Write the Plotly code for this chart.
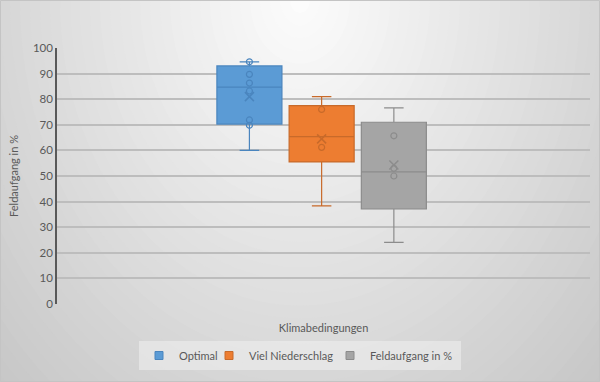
import plotly.graph_objects as go

# ---- data ----
series = ["Optimal", "Viel Niederschlag", "Feldaufgang in %"]
q1 = [70.3, 55.5, 37.1]
median = [84.7, 65.4, 51.6]
q3 = [93.0, 77.5, 71.0]
lower = [60.0, 38.3, 24.1]
upper = [94.6, 81.0, 76.6]
means = [81.0, 64.5, 54.3]
points_optimal = [94.6, 89.7, 86.3, 83.2, 71.9, 69.8]
points_niederschlag = [76.0, 61.2]
points_feld = [65.7, 53.0, 50.0]
inner_points = [points_optimal, points_niederschlag, points_feld]
category = "Klimabedingungen"
y_ticks = [0, 10, 20, 30, 40, 50, 60, 70, 80, 90, 100]

# ---- styling ----
fills = ["#5B9BD5", "#ED7D31", "#A5A5A5"]
lines = ["#4A85BE", "#C86A2A", "#8C8C8C"]
positions = [-0.139, -0.0035, 0.132]
box_width = 0.122
legend_widths = [25, 76, 86]

W, H = 600, 382
ML, MR, MT, MB = 57, 10, 48, 78
PW, PH = W - ML - MR, H - MT - MB


def px_x(p):
    return (p - ML) / PW


def px_y(p):
    return (H - MB - p) / PH


fig = go.Figure()

for i, name in enumerate(series):
    fig.add_trace(go.Box(
        name=name,
        x=[positions[i]],
        q1=[q1[i]], median=[median[i]], q3=[q3[i]],
        lowerfence=[lower[i]], upperfence=[upper[i]],
        width=box_width,
        fillcolor=fills[i],
        line=dict(color=lines[i], width=1.2),
        whiskerwidth=0.3,
        boxpoints=False,
        showlegend=False,
    ))
    fig.add_trace(go.Scatter(
        x=[positions[i]] * len(inner_points[i]),
        y=inner_points[i],
        mode="markers",
        marker=dict(symbol="circle-open", size=6, color=lines[i], line=dict(width=1.2)),
        showlegend=False, hoverinfo="y",
    ))
    fig.add_trace(go.Scatter(
        x=[positions[i]], y=[means[i]],
        mode="markers",
        marker=dict(symbol="x-thin-open", size=9, color=lines[i],
                    line=dict(width=1.5, color=lines[i])),
        showlegend=False, hoverinfo="y",
    ))
    # legend entry (square swatch like the original)
    fig.add_trace(go.Scatter(
        x=[None], y=[None], name=name, mode="markers",
        marker=dict(symbol="square", size=8, color=fills[i],
                    line=dict(width=1, color=lines[i])),
        legendwidth=legend_widths[i],
        showlegend=True,
    ))

# radial gradient background built from layered ellipses
shapes = []
n = 45
rmax = 1.5
cx, cy = 300, 0
for k in range(n, 0, -1):
    r = rmax * k / n
    c = int(round(max(196, 253 - 38 * r)))
    col = f"rgb({c},{c},{c})"
    shapes.append(dict(
        type="circle", xref="paper", yref="paper", layer="below",
        x0=px_x(cx - 300 * r), x1=px_x(cx + 300 * r),
        y0=px_y(cy + 382 * r), y1=px_y(cy - 382 * r),
        fillcolor=col, line=dict(width=0),
    ))
shapes.append(dict(
    type="rect", xref="paper", yref="paper", layer="below",
    x0=px_x(0.5), x1=px_x(599.5), y0=px_y(381.5), y1=px_y(0.5),
    line=dict(color="#c4c4c4", width=1), fillcolor="rgba(0,0,0,0)",
))

font_family = "Lato, 'Open Sans', sans-serif"

fig.update_layout(
    width=W, height=H,
    margin=dict(l=ML, r=MR, t=MT, b=MB, autoexpand=False),
    paper_bgcolor="rgb(200,200,200)",
    plot_bgcolor="rgba(0,0,0,0)",
    shapes=shapes,
    font=dict(family=font_family, size=11, color="#595959"),
    xaxis=dict(
        range=[-0.5, 0.5],
        tickvals=[0], ticktext=[category],
        ticks="outside", ticklen=14, tickcolor="rgba(0,0,0,0)",
        showgrid=False, zeroline=False, showline=False,
        tickfont=dict(size=11, color="#595959"),
        automargin=False,
        fixedrange=True,
    ),
    yaxis=dict(
        range=[0, 100],
        tickvals=y_ticks,
        showgrid=True, gridcolor="#bdbdbd", gridwidth=1.5,
        zeroline=False,
        showline=True, linecolor="#595959", linewidth=1.5,
        ticks="", ticklen=0,
        tickfont=dict(size=11.5, color="#595959"),
        automargin=False,
        title=dict(text="Feldaufgang in %", font=dict(size=11, color="#595959"), standoff=12),
    ),
    legend=dict(
        orientation="h",
        xref="container", yref="container",
        x=0.5, xanchor="center",
        y=1 - 341 / H, yanchor="top",
        bgcolor="rgba(240,240,240,0.55)",
        font=dict(size=11, color="#595959"),
        itemwidth=30,
        traceorder="normal",
    ),
    showlegend=True,
)

fig.write_html("out.html", config={"displayModeBar": False},
               post_script="document.body.style.margin='0';")
